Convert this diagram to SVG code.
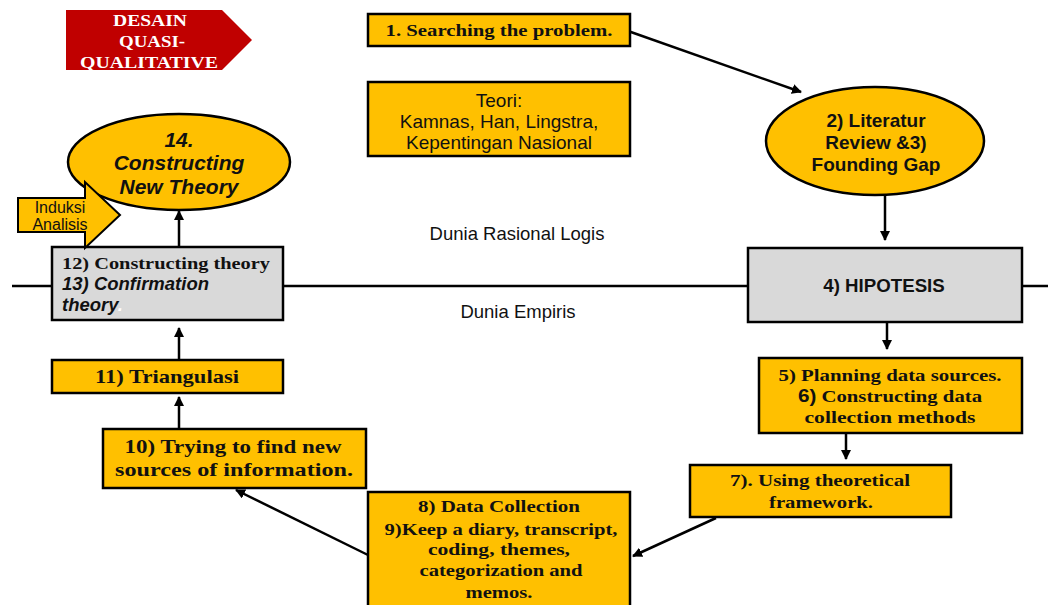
<svg xmlns="http://www.w3.org/2000/svg" width="1048" height="605" viewBox="0 0 1048 605">
<defs>
<style>
.y{fill:#FFC000;stroke:#000;stroke-width:2.5}
.g{fill:#D9D9D9;stroke:#000;stroke-width:2.5}
.sf{font-family:"Liberation Serif",serif;font-weight:bold;fill:#111;text-anchor:middle}
.ss{font-family:"Liberation Sans",Arial,sans-serif;fill:#111;text-anchor:middle}
.w{fill:#fff}
.c{stroke:#000;stroke-width:2.5;fill:none;marker-end:url(#ah)}
</style>
<marker id="ah" viewBox="0 0 10 10" refX="9" refY="5" markerWidth="4" markerHeight="4" orient="auto" markerUnits="strokeWidth">
<path d="M0,0 L10,5 L0,10 z" fill="#000"/>
</marker>
</defs>
<rect width="1048" height="605" fill="#fff"/>
<g id="axis">
<line x1="12" y1="286" x2="1048" y2="286" stroke="#000" stroke-width="2.5"/>
</g>
<g id="banner">
<path d="M66,10 L222,10 L252,40 L222,70 L66,70 z" fill="#C00000"/>
<text class="sf w" x="150" y="26" font-size="17" textLength="74" lengthAdjust="spacingAndGlyphs" style="fill:#fff">DESAIN</text>
<text class="sf w" x="152" y="47" font-size="17" textLength="66" lengthAdjust="spacingAndGlyphs" style="fill:#fff">QUASI-</text>
<text class="sf w" x="149" y="68" font-size="17" textLength="138" lengthAdjust="spacingAndGlyphs" style="fill:#fff">QUALITATIVE</text>
</g>
<g id="connectors">
<line class="c" x1="628" y1="31" x2="801" y2="92"/>
<line class="c" x1="885" y1="196" x2="885" y2="240"/>
<line class="c" x1="887" y1="322" x2="887" y2="349"/>
<line class="c" x1="846" y1="433" x2="846" y2="459"/>
<line class="c" x1="716" y1="518" x2="633" y2="556"/>
<line class="c" x1="368" y1="555" x2="236" y2="490"/>
<line class="c" x1="179" y1="430" x2="179" y2="397"/>
<line class="c" x1="179" y1="360" x2="179" y2="328"/>
<line class="c" x1="179" y1="247" x2="179" y2="211"/>
</g>
<g id="n1">
<rect class="y" x="368" y="14" width="262" height="32"/>
<text class="sf" x="499" y="36" font-size="17.5" textLength="227" lengthAdjust="spacingAndGlyphs">1. Searching the problem.</text>
</g>
<g id="teori">
<rect class="y" x="368" y="82" width="262" height="74"/>
<text class="ss" x="499" y="107" font-size="19">Teori:</text>
<text class="ss" x="499" y="128" font-size="19">Kamnas, Han, Lingstra,</text>
<text class="ss" x="499" y="149" font-size="19">Kepentingan Nasional</text>
</g>
<g id="n2">
<ellipse class="y" cx="875" cy="141" rx="109" ry="54"/>
<text class="ss" x="876" y="127" font-size="19" font-weight="bold">2) Literatur</text>
<text class="ss" x="876" y="149" font-size="19" font-weight="bold">Review &amp;3)</text>
<text class="ss" x="876" y="171" font-size="19" font-weight="bold">Founding Gap</text>
</g>
<g id="n4">
<rect class="g" x="748" y="248" width="274" height="74"/>
<text class="ss" x="884" y="292" font-size="18.7" font-weight="bold">4) HIPOTESIS</text>
</g>
<g id="n56">
<rect class="y" x="759" y="358" width="263" height="75"/>
<text class="sf" x="890" y="381" font-size="17.5" textLength="223" lengthAdjust="spacingAndGlyphs">5) Planning data sources.</text>
<text class="sf" x="890" y="402" font-size="17.5" textLength="184" lengthAdjust="spacingAndGlyphs"><tspan style="font-family:'Liberation Sans',Arial,sans-serif">6)</tspan> Constructing data</text>
<text class="sf" x="890" y="423" font-size="17.5" textLength="171" lengthAdjust="spacingAndGlyphs">collection methods</text>
</g>
<g id="n7">
<rect class="y" x="690" y="465" width="261" height="52"/>
<text class="sf" x="820" y="486" font-size="17.5" textLength="180" lengthAdjust="spacingAndGlyphs">7). Using theoretical</text>
<text class="sf" x="821" y="508" font-size="17.5" textLength="104" lengthAdjust="spacingAndGlyphs">framework.</text>
</g>
<g id="n89">
<rect class="y" x="368" y="492" width="262" height="118"/>
<text class="sf" x="499" y="512" font-size="17.5" textLength="162" lengthAdjust="spacingAndGlyphs">8) Data Collection</text>
<text class="sf" x="501" y="535" font-size="17.5" textLength="233" lengthAdjust="spacingAndGlyphs">9)Keep a diary, transcript,</text>
<text class="sf" x="499" y="555" font-size="17.5" textLength="142" lengthAdjust="spacingAndGlyphs">coding, themes,</text>
<text class="sf" x="501" y="576" font-size="17.5" textLength="163" lengthAdjust="spacingAndGlyphs">categorization and</text>
<text class="sf" x="499" y="598" font-size="17.5" textLength="67" lengthAdjust="spacingAndGlyphs">memos.</text>
</g>
<g id="n10">
<rect class="y" x="103" y="429" width="263" height="59"/>
<text class="sf" x="233" y="453" font-size="19" textLength="217" lengthAdjust="spacingAndGlyphs">10) Trying to find new</text>
<text class="sf" x="234" y="476" font-size="19" textLength="238" lengthAdjust="spacingAndGlyphs">sources of information.</text>
</g>
<g id="n11">
<rect class="y" x="52" y="360" width="231" height="33"/>
<text class="sf" x="167" y="383" font-size="19" textLength="144" lengthAdjust="spacingAndGlyphs">11) Triangulasi</text>
</g>
<g id="n1213">
<rect class="g" x="52" y="247" width="231" height="73"/>
<text class="sf" x="62" y="269" font-size="17.5" textLength="208" lengthAdjust="spacingAndGlyphs" style="text-anchor:start">12) Constructing theory</text>
<text class="ss" x="62" y="290" font-size="18.5" font-weight="bold" font-style="italic" style="text-anchor:start">13) Confirmation</text>
<text class="ss" x="62" y="311" font-size="18.5" font-weight="bold" font-style="italic" style="text-anchor:start">theory<tspan style="fill:#fff">.</tspan></text>
</g>
<g id="n14">
<ellipse class="y" cx="179" cy="162" rx="111" ry="48"/>
<text class="ss" x="179" y="147" font-size="21" font-weight="bold" font-style="italic">14.</text>
<text class="ss" x="179" y="170" font-size="21" font-weight="bold" font-style="italic">Constructing</text>
<text class="ss" x="179" y="194" font-size="21" font-weight="bold" font-style="italic">New Theory</text>
</g>
<g id="induksi">
<path d="M18,198 L85,198 L85,182 L120,215 L85,248 L85,232 L18,232 z" fill="#FFC000" stroke="#000" stroke-width="2"/>
<text class="ss" x="60" y="213" font-size="16">Induksi</text>
<text class="ss" x="60" y="230" font-size="16">Analisis</text>
</g>
<g id="labels">
<text class="ss" x="517" y="240" font-size="18.5">Dunia Rasional Logis</text>
<text class="ss" x="518" y="318" font-size="18.5">Dunia Empiris</text>
</g>
</svg>
